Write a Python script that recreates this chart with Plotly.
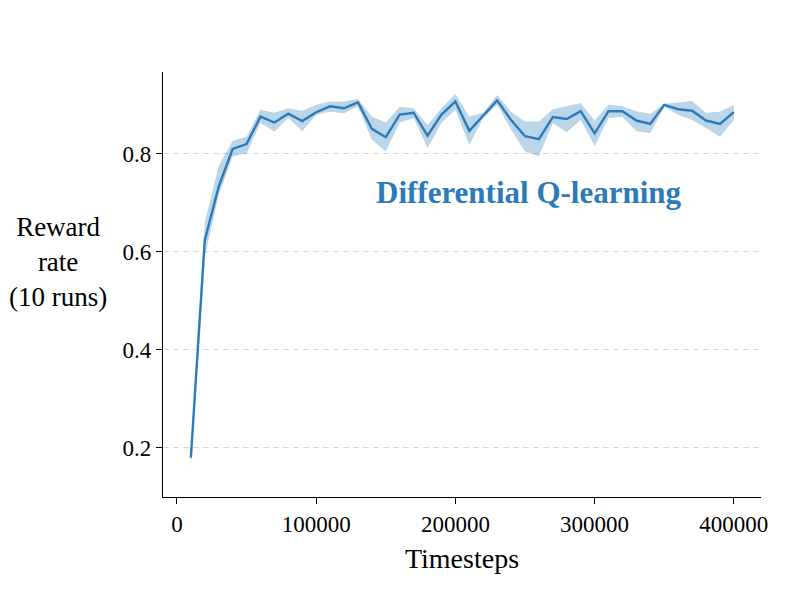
import plotly.graph_objects as go

# timesteps (every 10k steps)
steps = [10000 * i for i in range(1, 41)]

mean_reward = [
    0.180, 0.624, 0.733, 0.810, 0.820, 0.876, 0.864, 0.882, 0.867, 0.885,
    0.897, 0.893, 0.905, 0.851, 0.834, 0.880, 0.884, 0.837, 0.880, 0.907,
    0.847, 0.878, 0.909, 0.869, 0.836, 0.830, 0.875, 0.871, 0.887, 0.842,
    0.887, 0.887, 0.868, 0.861, 0.900, 0.891, 0.888, 0.868, 0.861, 0.885,
]
upper_reward = [
    0.190, 0.660, 0.775, 0.827, 0.835, 0.890, 0.884, 0.893, 0.888, 0.900,
    0.907, 0.907, 0.912, 0.876, 0.864, 0.896, 0.893, 0.859, 0.893, 0.922,
    0.876, 0.884, 0.920, 0.886, 0.866, 0.866, 0.891, 0.898, 0.904, 0.868,
    0.900, 0.897, 0.887, 0.882, 0.902, 0.905, 0.908, 0.884, 0.886, 0.900,
]
lower_reward = [
    0.160, 0.590, 0.715, 0.795, 0.800, 0.863, 0.845, 0.873, 0.846, 0.880,
    0.886, 0.883, 0.897, 0.829, 0.805, 0.864, 0.873, 0.812, 0.863, 0.890,
    0.818, 0.873, 0.900, 0.849, 0.805, 0.795, 0.863, 0.844, 0.869, 0.816,
    0.873, 0.875, 0.846, 0.842, 0.896, 0.880, 0.869, 0.853, 0.835, 0.869,
]

y_ticks = [0.2, 0.4, 0.6, 0.8]
x_ticks = [0, 100000, 200000, 300000, 400000]

BLUE = "#2b7bba"
FONT = "Liberation Serif"

fig = go.Figure()
fig.add_trace(go.Scatter(x=steps, y=lower_reward, mode="lines",
                         line=dict(width=0), hoverinfo="skip", showlegend=False))
fig.add_trace(go.Scatter(x=steps, y=upper_reward, mode="lines",
                         line=dict(width=0), fill="tonexty",
                         fillcolor="rgba(31,119,180,0.3)",
                         hoverinfo="skip", showlegend=False))
fig.add_trace(go.Scatter(x=steps, y=mean_reward, mode="lines",
                         line=dict(color=BLUE, width=2.4), showlegend=False))

fig.add_annotation(x=252800, y=0.722, xref="x", yref="y",
                   text="<b>Differential Q-learning</b>", showarrow=False,
                   font=dict(family=FONT, size=31, color=BLUE))
fig.add_annotation(x=-0.176, y=0.553, xref="paper", yref="paper",
                   xanchor="center", yanchor="middle",
                   text="Reward<br>rate<br>(10 runs)", showarrow=False,
                   align="center", font=dict(family=FONT, size=27, color="black"))

fig.update_xaxes(range=[-10000, 419500], tickvals=x_ticks,
                 ticktext=[str(v) for v in x_ticks],
                 showline=True, linecolor="black", linewidth=1.3,
                 ticks="outside", ticklen=6, tickcolor="black", tickwidth=1.2,
                 tickfont=dict(size=23),
                 showgrid=False, zeroline=False,
                 title=dict(text="Timesteps", font=dict(family=FONT, size=28),
                            standoff=12))
fig.update_yaxes(range=[0.1, 0.967], tickvals=y_ticks,
                 ticktext=[f"{v:.1f}" for v in y_ticks],
                 showline=True, linecolor="black", linewidth=1.3,
                 ticks="outside", ticklen=6, tickcolor="black", tickwidth=1.2,
                 tickfont=dict(size=23),
                 showgrid=True, gridcolor="#d9d9d9", griddash="6px,4px", gridwidth=1.2,
                 zeroline=False)

fig.update_layout(width=789, height=592,
                  margin=dict(l=155, r=36, t=64, b=103),
                  plot_bgcolor="white", paper_bgcolor="white",
                  font=dict(family=FONT, size=23, color="black"))

fig.write_html("out.html")
